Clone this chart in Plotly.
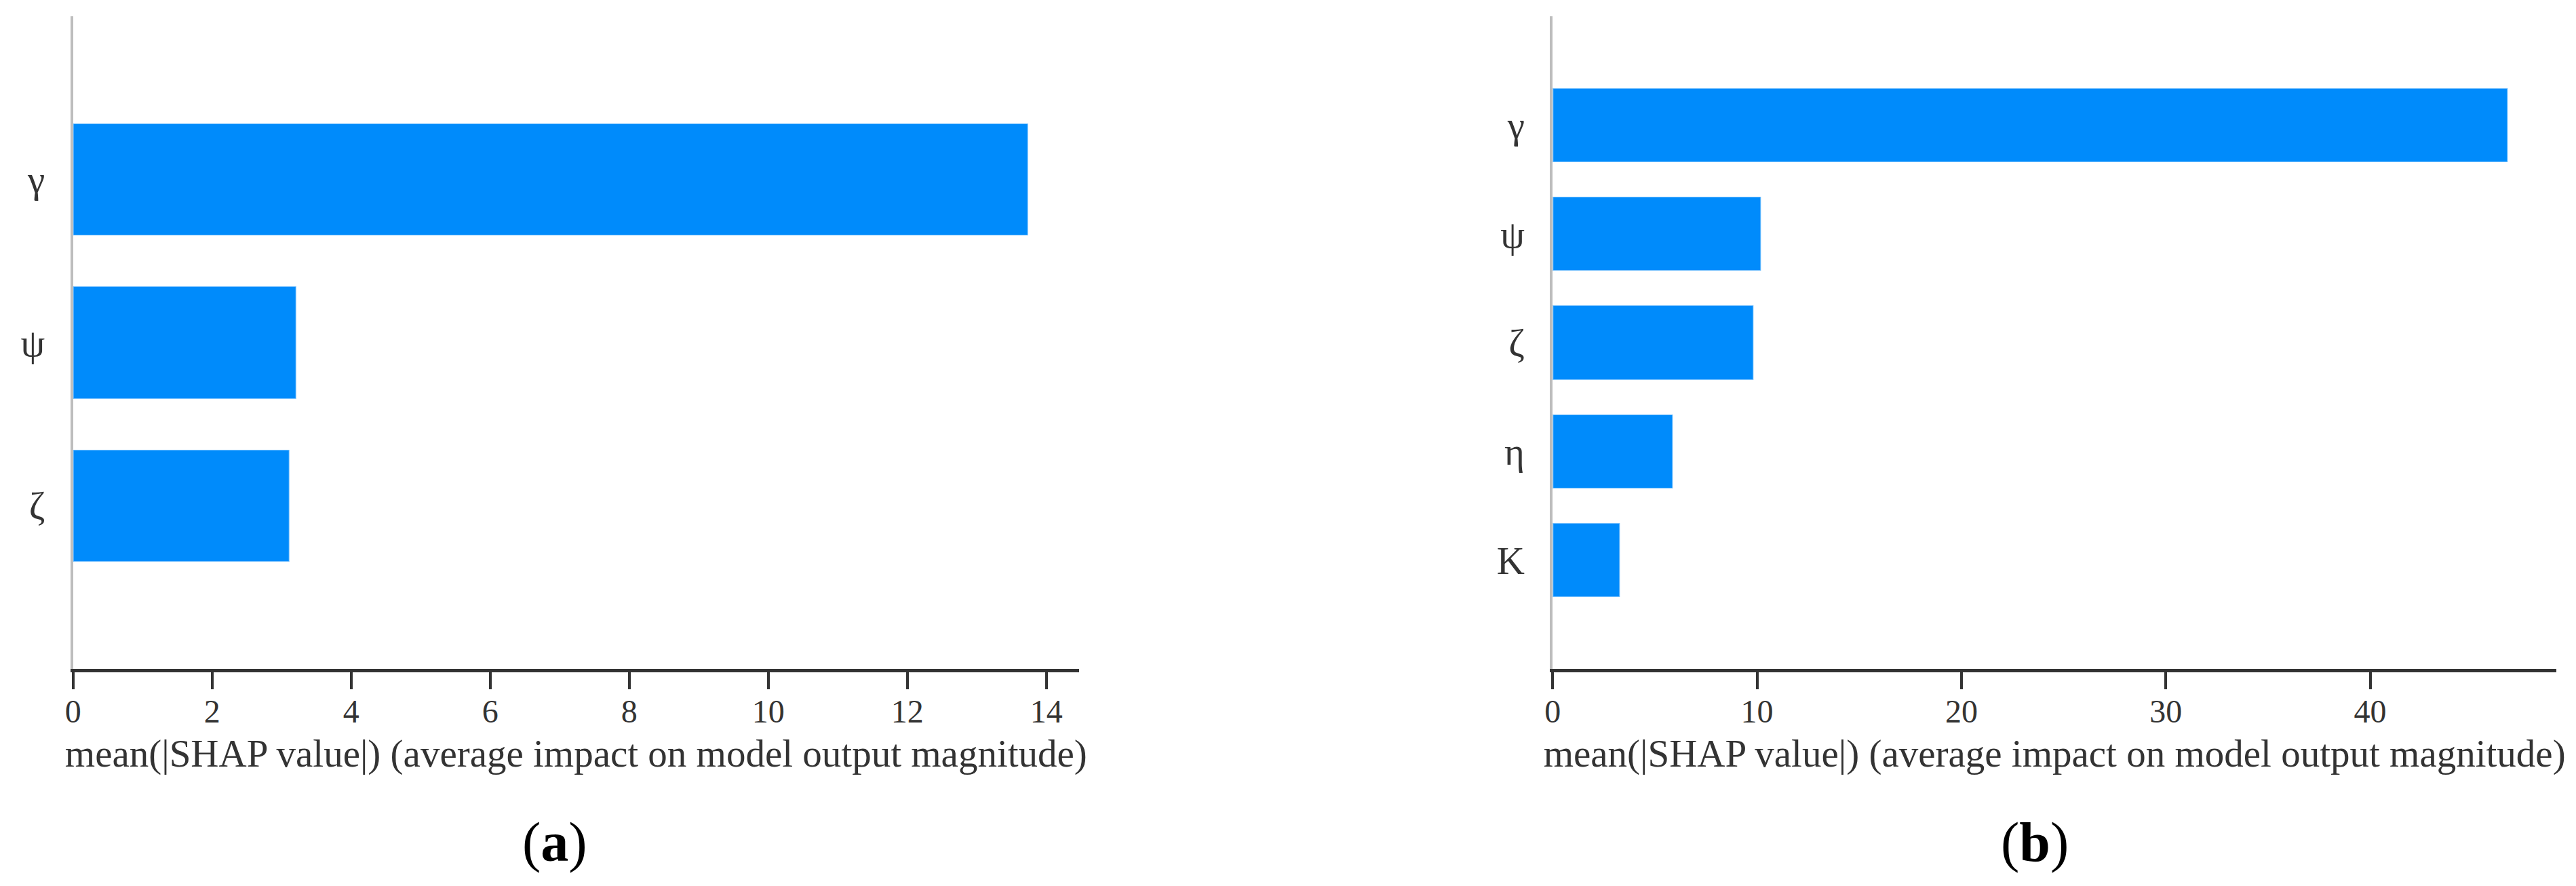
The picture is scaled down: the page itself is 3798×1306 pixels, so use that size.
import plotly.graph_objects as go

# ---- data ----
features_a = ["ζ", "ψ", "γ"]          # bottom -> top
values_a = [3.11, 3.21, 13.74]

features_b = ["K", "η", "ζ", "ψ", "γ"]  # bottom -> top
values_b = [3.27, 5.86, 9.81, 10.20, 46.73]

xlabel = "mean(|SHAP value|) (average impact on model output magnitude)"
captions = ["(<b>a</b>)", "(<b>b</b>)"]

# page is 3798x1306; the html body has an 8px default margin
OFF = 8
W, H = 3798 - 2 * OFF, 1306 - 2 * OFF
BLUE = "#008bfb"
FONT = "Liberation Serif, Times New Roman, serif"
TXT = "#333333"

def px_x(p):
    return (p - OFF) / W

def px_y(p):
    return 1 - (p - OFF) / H

fig = go.Figure()
fig.add_trace(go.Bar(x=values_a, y=features_a, orientation="h", width=0.69,
                     marker=dict(color=BLUE, line=dict(color="rgba(255,255,255,0.45)", width=2)),
                     xaxis="x", yaxis="y", showlegend=False))
fig.add_trace(go.Bar(x=values_b, y=features_b, orientation="h", width=0.68,
                     marker=dict(color=BLUE, line=dict(color="rgba(255,255,255,0.45)", width=2)),
                     xaxis="x2", yaxis="y2", showlegend=False))

def xax(domain, rng, dtick):
    return dict(domain=domain, range=rng, dtick=dtick, tick0=0,
                showgrid=False, zeroline=False, showline=True,
                linecolor=TXT, linewidth=5, ticks="outside", ticklen=25,
                tickwidth=4, tickcolor=TXT,
                tickfont=dict(family=FONT, size=48, color=TXT),
                ticklabelstandoff=-9, automargin=False,
                title=dict(text=xlabel, font=dict(family=FONT, size=57, color=TXT), standoff=18),
                layer="below traces", fixedrange=True)

def yax(domain, cats, anchor):
    return dict(domain=domain, anchor=anchor, type="category",
                categoryorder="array", categoryarray=cats,
                range=[-1, len(cats)], showgrid=False, zeroline=False,
                showline=True, linecolor="#bdbdbd", linewidth=4,
                ticks="", ticklabelstandoff=26, automargin=False,
                tickfont=dict(family=FONT, size=57, color=TXT),
                layer="below traces", fixedrange=True)

ydom = [px_y(986), px_y(24)]
fig.update_layout(
    width=W, height=H,
    margin=dict(l=0, r=0, t=0, b=0, pad=0),
    paper_bgcolor="white", plot_bgcolor="white",
    bargap=0,
    xaxis=xax([px_x(107.7), px_x(1591)], [0, 14.47], 2) | dict(anchor="y"),
    yaxis=yax(ydom, features_a, "x"),
    xaxis2=xax([px_x(2289.3), px_x(3769)], [0, 49.11], 10) | dict(anchor="y2"),
    yaxis2=yax(ydom, features_b, "x2"),
    annotations=[
        dict(text=captions[0], x=px_x(818), y=px_y(1241), xref="paper", yref="paper",
             xanchor="center", yanchor="middle", showarrow=False,
             font=dict(family=FONT, size=82, color="black")),
        dict(text=captions[1], x=px_x(3000), y=px_y(1241), xref="paper", yref="paper",
             xanchor="center", yanchor="middle", showarrow=False,
             font=dict(family=FONT, size=82, color="black")),
    ],
)

fig.write_html("out.html")
